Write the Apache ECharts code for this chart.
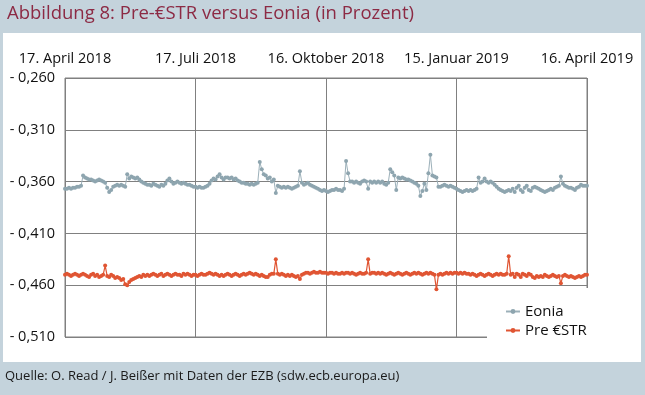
<!DOCTYPE html>
<html><head><meta charset="utf-8">
<script src="https://cdn.jsdelivr.net/npm/echarts@6/dist/echarts.min.js"></script>
<style>html,body{margin:0;padding:0;background:#c4d3dc;}#c{width:645px;height:395px;}</style>
</head><body><div id="c"></div>
<script>
// Business days from 17 April 2018 to 16 April 2019 (261 days)
const startDate = '2018-04-17';
const endDate = '2019-04-16';
const monthNames = ['Januar','Februar','März','April','Mai','Juni','Juli','August','September','Oktober','November','Dezember'];
const tickLabels = ['17. April 2018','17. Juli 2018','16. Oktober 2018','15. Januar 2019','16. April 2019'];
const yTicks = [-0.51, -0.46, -0.41, -0.36, -0.31, -0.26];

const eonia = [
-0.367,-0.367,-0.366,-0.367,-0.366,-0.366,-0.365,-0.365,-0.364,-0.354,
-0.356,-0.357,-0.358,-0.358,-0.359,-0.360,-0.359,-0.358,-0.359,-0.360,
-0.361,-0.366,-0.370,-0.368,-0.365,-0.364,-0.363,-0.364,-0.363,-0.364,
-0.365,-0.353,-0.357,-0.355,-0.356,-0.357,-0.356,-0.358,-0.360,-0.361,
-0.362,-0.363,-0.363,-0.364,-0.362,-0.363,-0.364,-0.365,-0.363,-0.364,
-0.362,-0.359,-0.357,-0.360,-0.362,-0.361,-0.360,-0.361,-0.362,-0.361,
-0.362,-0.363,-0.363,-0.364,-0.365,
-0.365,-0.366,-0.365,-0.366,-0.366,-0.365,-0.364,-0.362,-0.359,-0.357,
-0.358,-0.355,-0.353,-0.356,-0.358,-0.356,-0.356,-0.357,-0.356,-0.358,
-0.357,-0.359,-0.360,-0.361,-0.361,-0.362,-0.362,-0.363,-0.362,-0.363,
-0.362,-0.361,-0.341,-0.348,-0.353,-0.354,-0.357,-0.356,-0.360,-0.358,
-0.371,-0.364,-0.365,-0.366,-0.365,-0.366,-0.365,-0.366,-0.367,-0.366,
-0.365,-0.364,-0.350,-0.361,-0.363,-0.362,-0.361,-0.363,-0.364,-0.365,
-0.366,-0.367,-0.368,-0.369,-0.368,
-0.369,-0.370,-0.369,-0.368,-0.368,-0.367,-0.368,-0.368,-0.369,-0.367,
-0.340,-0.352,-0.360,-0.360,-0.361,-0.360,-0.361,-0.362,-0.360,-0.359,
-0.360,-0.367,-0.360,-0.361,-0.360,-0.361,-0.360,-0.361,-0.360,-0.362,
-0.363,-0.361,-0.348,-0.351,-0.354,-0.368,-0.356,-0.357,-0.356,-0.357,
-0.358,-0.358,-0.359,-0.360,-0.361,-0.362,-0.364,-0.374,-0.369,-0.362,
-0.368,-0.352,-0.334,-0.354,-0.355,-0.356,-0.365,-0.365,-0.364,-0.363,
-0.364,-0.365,-0.364,-0.365,-0.366,
-0.367,-0.368,-0.369,-0.370,-0.369,-0.368,-0.369,-0.368,-0.369,-0.368,
-0.367,-0.356,-0.361,-0.360,-0.357,-0.360,-0.361,-0.360,-0.361,-0.363,
-0.365,-0.367,-0.368,-0.369,-0.370,-0.369,-0.368,-0.369,-0.367,-0.370,
-0.366,-0.364,-0.368,-0.370,-0.366,-0.364,-0.368,-0.369,-0.366,-0.365,
-0.366,-0.367,-0.368,-0.369,-0.370,-0.369,-0.368,-0.367,-0.368,-0.366,
-0.365,-0.364,-0.355,-0.362,-0.364,-0.365,-0.366,-0.366,-0.367,-0.368,
-0.366,-0.365,-0.363,-0.364,-0.364,-0.364
];

const preEstr = [
-0.450,-0.449,-0.450,-0.451,-0.450,-0.449,-0.450,-0.451,-0.450,-0.449,
-0.450,-0.451,-0.452,-0.450,-0.449,-0.451,-0.450,-0.452,-0.451,-0.450,
-0.441,-0.451,-0.452,-0.450,-0.451,-0.453,-0.452,-0.453,-0.455,-0.454,
-0.459,-0.460,-0.457,-0.455,-0.454,-0.453,-0.452,-0.451,-0.452,-0.450,
-0.451,-0.450,-0.451,-0.450,-0.449,-0.450,-0.451,-0.450,-0.449,-0.451,
-0.450,-0.449,-0.450,-0.451,-0.450,-0.449,-0.450,-0.450,-0.451,-0.449,
-0.450,-0.449,-0.450,-0.451,-0.450,
-0.450,-0.451,-0.450,-0.449,-0.450,-0.450,-0.449,-0.448,-0.449,-0.450,
-0.449,-0.450,-0.451,-0.450,-0.451,-0.450,-0.449,-0.450,-0.451,-0.450,
-0.449,-0.450,-0.451,-0.450,-0.449,-0.450,-0.449,-0.448,-0.449,-0.450,
-0.449,-0.450,-0.451,-0.450,-0.451,-0.452,-0.452,-0.450,-0.449,-0.449,
-0.435,-0.449,-0.450,-0.449,-0.450,-0.451,-0.450,-0.451,-0.450,-0.451,
-0.452,-0.451,-0.454,-0.450,-0.449,-0.448,-0.448,-0.449,-0.448,-0.447,
-0.448,-0.448,-0.447,-0.448,-0.448,
-0.448,-0.449,-0.448,-0.448,-0.449,-0.448,-0.449,-0.449,-0.448,-0.449,
-0.448,-0.448,-0.449,-0.448,-0.449,-0.450,-0.449,-0.448,-0.449,-0.449,
-0.448,-0.435,-0.449,-0.448,-0.448,-0.449,-0.448,-0.449,-0.448,-0.449,
-0.450,-0.449,-0.448,-0.449,-0.450,-0.449,-0.448,-0.449,-0.450,-0.449,
-0.448,-0.449,-0.450,-0.449,-0.448,-0.449,-0.448,-0.449,-0.450,-0.449,
-0.448,-0.449,-0.448,-0.449,-0.450,-0.464,-0.450,-0.449,-0.450,-0.449,
-0.448,-0.449,-0.448,-0.449,-0.448,
-0.448,-0.449,-0.448,-0.449,-0.448,-0.449,-0.449,-0.450,-0.449,-0.450,
-0.451,-0.450,-0.449,-0.450,-0.451,-0.450,-0.449,-0.450,-0.451,-0.450,
-0.449,-0.450,-0.449,-0.450,-0.450,-0.449,-0.432,-0.450,-0.449,-0.452,
-0.449,-0.450,-0.452,-0.449,-0.450,-0.451,-0.449,-0.450,-0.452,-0.453,
-0.451,-0.452,-0.451,-0.452,-0.450,-0.451,-0.452,-0.451,-0.450,-0.451,
-0.452,-0.451,-0.458,-0.451,-0.450,-0.451,-0.452,-0.451,-0.452,-0.453,
-0.452,-0.451,-0.452,-0.451,-0.450,-0.450
];

// build weekday categories
const categories = [];
(function(){
  const d = new Date(startDate + 'T12:00:00Z');
  const e = new Date(endDate + 'T12:00:00Z');
  while (d <= e) {
    const wd = d.getUTCDay();
    if (wd !== 0 && wd !== 6) {
      categories.push(d.getUTCDate() + '. ' + monthNames[d.getUTCMonth()] + ' ' + d.getUTCFullYear());
    }
    d.setUTCDate(d.getUTCDate() + 1);
  }
})();

const FONT = '"Open Sans", sans-serif';
const chart = echarts.init(document.getElementById('c'), null, {renderer: 'canvas'});
chart.setOption({
  backgroundColor: '#c4d3dc',
  animation: false,
  graphic: {elements: [
    {type: 'rect', z: -100, shape: {x: 3, y: 33, width: 638, height: 329}, style: {fill: '#ffffff'}, silent: true},
    {type: 'text', left: 7, top: 4, style: {text: 'Abbildung 8: Pre-€STR versus Eonia (in Prozent)', fill: '#8c2a44', font: '18.5px ' + FONT}},
    {type: 'text', left: 5, top: 370, style: {text: 'Quelle: O. Read / J. Beißer mit Daten der EZB (sdw.ecb.europa.eu)', fill: '#1a1a1a', font: '13px ' + FONT}}
  ]},
  grid: {left: 65, right: 58, top: 78, bottom: 58, containLabel: false,
    show: true, backgroundColor: 'transparent', borderColor: '#808080', borderWidth: 1},
  xAxis: {
    type: 'category', position: 'top', boundaryGap: false, data: categories,
    axisLine: {show: false}, axisTick: {show: false},
    axisLabel: {interval: 64, margin: 12, color: '#111', fontFamily: FONT, fontSize: 14.5,
      formatter: function(v){ return tickLabels.indexOf(v) >= 0 ? v : ''; }},
    splitLine: {show: true, interval: 64, lineStyle: {color: '#808080', width: 1}}
  },
  yAxis: {
    type: 'value', min: yTicks[0], max: yTicks[yTicks.length-1], interval: 0.05,
    axisLine: {show: false}, axisTick: {show: false},
    axisLabel: {margin: 10, color: '#111', fontFamily: FONT, fontSize: 14.5,
      formatter: function(v){ return '- ' + Math.abs(v).toFixed(3).replace('.', ','); }},
    splitLine: {show: true, lineStyle: {color: '#808080', width: 1}}
  },
  legend: {
    orient: 'vertical', left: 487, top: 288, padding: [16, 12, 8, 18],
    backgroundColor: '#ffffff', itemWidth: 14, itemHeight: 6, itemGap: 4,
    textStyle: {fontFamily: FONT, fontSize: 15, color: '#111'},
    data: ['Eonia', 'Pre €STR']
  },
  series: [
    {name: 'Eonia', type: 'line', data: eonia, symbol: 'circle', symbolSize: 4, showSymbol: true, showAllSymbol: true,
      itemStyle: {color: '#8ea5af'}, lineStyle: {color: '#9cb0b9', width: 1}},
    {name: 'Pre €STR', type: 'line', data: preEstr, symbol: 'circle', symbolSize: 4, showSymbol: true, showAllSymbol: true,
      itemStyle: {color: '#e05533'}, lineStyle: {color: '#e05533', width: 1.2}}
  ]
});
</script></body></html>
